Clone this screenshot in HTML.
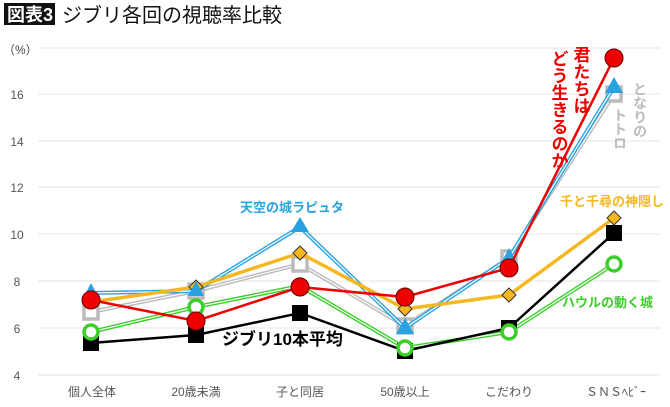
<!DOCTYPE html>
<html><head><meta charset="utf-8"><style>
body{margin:0;background:#fff;width:670px;height:402px;overflow:hidden;font-family:"Liberation Sans","Noto Sans CJK JP",sans-serif}
</style></head><body>
<svg width="670" height="402" viewBox="0 0 670 402" xmlns="http://www.w3.org/2000/svg" font-family="Liberation Sans, Noto Sans CJK JP, sans-serif">
<rect x="4" y="3" width="51" height="22" fill="#111"/>
<text x="7" y="21" font-size="18" font-weight="bold" fill="#fff">図表3</text>
<text x="62" y="22" font-size="20" fill="#111">ジブリ各回の視聴率比較</text>
<text x="3" y="54" font-size="12" fill="#444">（%）</text>
<g stroke="#e6e6e6" stroke-width="1">
<line x1="38" x2="660" y1="48" y2="48"/><line x1="38" x2="660" y1="94" y2="94"/><line x1="38" x2="660" y1="141" y2="141"/><line x1="38" x2="660" y1="187" y2="187"/><line x1="38" x2="660" y1="234" y2="234"/><line x1="38" x2="660" y1="281" y2="281"/><line x1="38" x2="660" y1="328" y2="328"/><line x1="38" x2="660" y1="375" y2="375"/>
</g>
<g font-size="12" fill="#555" text-anchor="middle">
<text x="17" y="99">16</text><text x="17" y="146">14</text><text x="17" y="192">12</text><text x="17" y="239">10</text><text x="17" y="286">8</text><text x="17" y="333">6</text><text x="17" y="380">4</text>
<text x="92" y="396">個人全体</text><text x="196" y="396">20歳未満</text><text x="300" y="396">子と同居</text><text x="405" y="396">50歳以上</text><text x="509" y="396">こだわり</text><text x="616" y="396">ＳＮＳﾍﾋﾞｰ</text>
</g>
<!-- gray -->
<polyline points="91,312 196,291 300,264 405,326 509,258 614,94" fill="none" stroke="#bbb" stroke-width="4"/>
<polyline points="91,312 196,291 300,264 405,326 509,258 614,94" fill="none" stroke="#fff" stroke-width="1.2"/>
<g fill="#fff" stroke="#bbb" stroke-width="3.5"><rect x="84" y="305" width="14" height="14"/><rect x="189" y="284" width="14" height="14"/><rect x="293" y="257" width="14" height="14"/><rect x="398" y="319" width="14" height="14"/><rect x="502" y="251" width="14" height="14"/><rect x="607" y="87" width="14" height="14"/></g>
<!-- blue -->
<polyline points="91,293 196,291 300,227 405,328 509,258 614,87" fill="none" stroke="#29a3e0" stroke-width="4"/>
<polyline points="91,293 196,291 300,227 405,328 509,258 614,87" fill="none" stroke="#fff" stroke-width="1.2"/>
<!-- yellow -->
<polyline points="91,302 196,287 300,253 405,309 509,295 614,218" fill="none" stroke="#f5b820" stroke-width="3.5"/>
<g fill="#f5b820" stroke="#333" stroke-width="1"><path d="M91,295 l7,7 -7,7 -7,-7z"/><path d="M196,280 l7,7 -7,7 -7,-7z"/><path d="M300,246 l7,7 -7,7 -7,-7z"/><path d="M405,302 l7,7 -7,7 -7,-7z"/><path d="M509,288 l7,7 -7,7 -7,-7z"/><path d="M614,211 l7,7 -7,7 -7,-7z"/></g>
<g fill="#29a3e0"><path d="M91,283 l8,15 h-16z"/><path d="M196,281 l8,15 h-16z"/><path d="M300,217 l9,15 h-18z"/><path d="M405,318 l9,16 h-18z"/><path d="M509,248 l8,15 h-16z"/><path d="M614,77 l9,16 h-18z"/></g>
<!-- green -->
<polyline points="91,332 196,307 300,286 405,348 509,332 614,264" fill="none" stroke="#3ccf2c" stroke-width="4"/>
<polyline points="91,332 196,307 300,286 405,348 509,332 614,264" fill="none" stroke="#fff" stroke-width="1.2"/>
<!-- black -->
<polyline points="91,343 196,335 300,313 405,351 509,328 614,233" fill="none" stroke="#000" stroke-width="2.5"/>
<g fill="#000"><rect x="83" y="335" width="16" height="16"/><rect x="188" y="327" width="16" height="16"/><rect x="292" y="305" width="16" height="16"/><rect x="397" y="343" width="16" height="16"/><rect x="501" y="320" width="16" height="16"/><rect x="606" y="225" width="16" height="16"/></g>
<g fill="#fff" stroke="#3ccf2c" stroke-width="3.5"><circle cx="91" cy="332" r="7"/><circle cx="196" cy="307" r="7"/><circle cx="300" cy="286" r="7"/><circle cx="405" cy="348" r="7"/><circle cx="509" cy="332" r="7"/><circle cx="614" cy="264" r="7"/></g>
<!-- red -->
<polyline points="91,300 196,321 300,287 405,297 509,268 614,58" fill="none" stroke="#e00" stroke-width="2.5"/>
<g fill="#e00" stroke="#600" stroke-width="1"><circle cx="91" cy="300" r="9"/><circle cx="196" cy="321" r="9"/><circle cx="300" cy="287" r="9"/><circle cx="405" cy="297" r="9"/><circle cx="509" cy="268" r="9"/><circle cx="614" cy="58" r="9"/></g>
<!-- labels -->
<text x="222" y="345" font-size="17" font-weight="bold" fill="#000">ジブリ10本平均</text>
<text x="240" y="212" font-size="13" font-weight="bold" fill="#29a3e0">天空の城ラピュタ</text>
<text x="560" y="206" font-size="13" font-weight="bold" fill="#f5b820">千と千尋の神隠し</text>
<text x="562" y="307" font-size="13" font-weight="bold" fill="#3ccf2c">ハウルの動く城</text>
<g font-size="17" font-weight="bold" fill="#e00">
<text x="580" y="46" style="writing-mode:vertical-rl">君たちは</text>
<text x="558" y="50" style="writing-mode:vertical-rl">どう生きるのか</text>
</g>
<g font-size="14" font-weight="bold" fill="#bbb">
<text x="640" y="82" style="writing-mode:vertical-rl">となりの</text>
<text x="620" y="108" style="writing-mode:vertical-rl">トトロ</text>
</g>
</svg>
</body></html>
